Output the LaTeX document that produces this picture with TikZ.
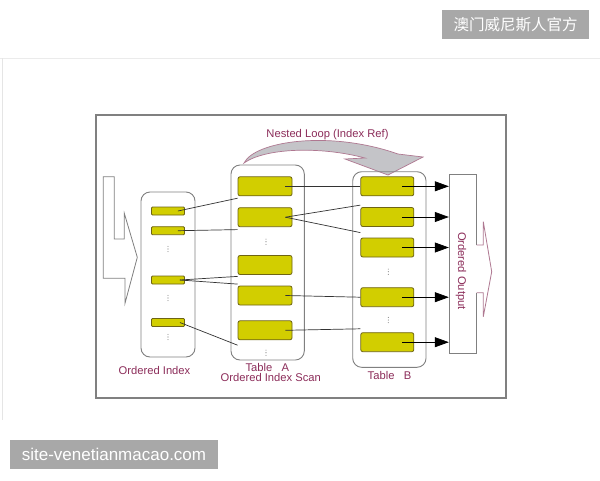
\documentclass[tikz,border=0pt]{standalone}
\usepackage{fontspec}
\setmainfont{Liberation Sans}
\newfontfamily\cjkfont{Noto Sans CJK SC}
\usetikzlibrary{arrows.meta}

\definecolor{rowfill}{RGB}{210,206,0}
\definecolor{rowline}{RGB}{110,100,20}
\definecolor{labelred}{RGB}{140,45,90}
\definecolor{boxgray}{RGB}{128,128,128}
\definecolor{loopgray}{RGB}{196,196,200}
\definecolor{looppink}{RGB}{175,120,145}
\definecolor{markgray}{RGB}{168,168,168}

\tikzset{
  row/.style={draw=rowline, fill=rowfill, rounded corners=2pt, line width=0.8pt,
    minimum width=54pt, minimum height=19pt, inner sep=0pt},
  keyrow/.style={row, minimum width=33pt, minimum height=8pt, rounded corners=1pt},
  holder/.style={draw=boxgray, rounded corners=9pt, line width=0.9pt},
  caption/.style={text=labelred, font=\fontsize{11.2}{10}\selectfont, inner sep=0pt},
  link/.style={draw=black!80, line width=0.7pt},
  feed/.style={draw=black, line width=0.7pt, -{Triangle[length=14pt,width=10pt]}},
  gap/.pic={\foreach \d in {-2.6,0,2.6} \fill[boxgray] (0,\d) circle (0.55);},
  stamp/.style={text=white, inner sep=0pt},
}

\begin{document}
\begin{tikzpicture}[x=1pt, y=-1pt]
	\useasboundingbox (0,0) rectangle (600,480);
	\fill[white] (0,0) rectangle (600,480);
	\draw[black!8] (0,58) -- (600,58);
	\draw[black!10] (2.5,58) -- (2.5,420);
	
	% page marks
	\fill[markgray] (442,10) rectangle (589,39);
	\node[stamp, font=\cjkfont\fontsize{15.5}{16}\selectfont] (markcn) at (515.5,24.5) {澳门威尼斯人官方};
	\fill[markgray] (10,440) rectangle (218,469);
	\node[stamp, font=\fontsize{17}{18}\selectfont] (markurl) at (114,454.5) {site-venetianmacao.com};
	
	\draw[boxgray, line width=1.2pt] (96,115) rectangle (506,398);
	
	% input arrow
	\draw[boxgray, line width=0.8pt] (103.3,176.7) -- (114.3,176.7) -- (114.3,239) -- (124.3,239)
		-- (124.3,213.3) -- (137.3,257.3) -- (125,303.3) -- (125,278.3) -- (103.3,278.3) -- cycle;
	
	% nested loop arrow
	\draw[fill=loopgray, draw=looppink, line width=0.7pt] (244,163) .. controls (255,141) and (330,130) .. (398,154)
		-- (423,157) -- (388,175) -- (345,159) -- (365,158) .. controls (320,146) and (265,148) .. (244,163) -- cycle;
	\node[caption] (looplabel) at (327.5,135) {Nested Loop (Index Ref)};
	
	\draw[holder] (141,192) rectangle (195,357);
	\draw[holder] (231,165) rectangle (304.3,360);
	\draw[holder] (352.7,171.7) rectangle (426,367.3);
	
	\node[keyrow] (idx1) at (168,211) {};
	\node[keyrow] (idx2) at (168,230.7) {};
	\node[keyrow] (idx3) at (168,280) {};
	\node[keyrow] (idx4) at (168,322.5) {};
	\pic at (168,249) {gap};
	\pic at (168,298) {gap};
	\pic at (168,337) {gap};
	
	\node[row] (ta1) at (265,186.3) {};
	\node[row] (ta2) at (265,217.2) {};
	\node[row] (ta3) at (265,265) {};
	\node[row] (ta4) at (265,295.5) {};
	\node[row] (ta5) at (265,330.3) {};
	\pic at (266,241.7) {gap};
	\pic at (266,352.7) {gap};
	
	\node[row, minimum width=53pt] (tb1) at (387.3,186.3) {};
	\node[row, minimum width=53pt] (tb2) at (387.3,217) {};
	\node[row, minimum width=53pt] (tb3) at (387.3,247.5) {};
	\node[row, minimum width=53pt] (tb4) at (387.3,297.2) {};
	\node[row, minimum width=53pt] (tb5) at (387.3,342.2) {};
	\pic at (388.3,271.7) {gap};
	\pic at (388.3,320) {gap};
	
	% output box
	\node[minimum width=27.7pt, minimum height=179.3pt, inner sep=0pt] (out) at (462.85,263.65) {};
	\draw[boxgray, line width=0.8pt] (476.7,245) -- (476.7,174) -- (449,174) -- (449,353.3) -- (476.7,353.3) -- (476.7,292.7);
	\draw[looppink, line width=0.8pt] (476.7,245) -- (483.3,245) -- (483.3,221.7) -- (491.7,271.7)
		-- (483.3,316.7) -- (483.3,292.7) -- (476.7,292.7);
	\node[caption, rotate=-90] (outlabel) at (461,271) {Ordered Output};
	
	\draw[link] ([xshift=-7pt]idx1.east) -- ([yshift=-2pt]ta1.south west);
	\draw[link] ([xshift=-7pt]idx2.east) -- ([yshift=-2.5pt]ta2.south west);
	\draw[link] ([xshift=-5pt]idx3.east) -- ([yshift=-1.5pt]ta3.south west);
	\draw[link] ([xshift=-5pt]idx3.east) -- ([yshift=1.5pt]ta4.north west);
	\draw[link] ([xshift=-5pt]idx4.east) -- ([yshift=-5pt]ta5.south west);
	
	\draw[link] ([xshift=-7pt]ta1.east) -- (tb1.west);
	\draw[link] ([xshift=-7pt]ta2.east) -- ([yshift=2pt]tb2.north west);
	\draw[link] ([xshift=-7pt]ta2.east) -- ([yshift=5pt]tb3.north west);
	\draw[link] ([xshift=-7pt]ta4.east) -- (tb4.west);
	\draw[link] ([xshift=-7pt]ta5.east) -- ([yshift=3.5pt]tb5.north west);
	
	\draw[feed] ([xshift=-12pt]tb1.east) -- (tb1 -| out.west);
	\draw[feed] ([xshift=-12pt]tb2.east) -- (tb2 -| out.west);
	\draw[feed] ([xshift=-12pt]tb3.east) -- (tb3 -| out.west);
	\draw[feed] ([xshift=-12pt]tb4.east) -- (tb4 -| out.west);
	\draw[feed] ([xshift=-12pt]tb5.east) -- (tb5 -| out.west);
	
	\node[caption] (idxlabel) at (154.5,370.7) {Ordered Index};
	\node[caption, align=center] (talabel) at (270.8,372.3) {Table\ \ \ A\hspace*{7pt}\\Ordered Index Scan};
	\node[caption] (tblabel) at (389.5,375) {Table\ \ \ B};
\end{tikzpicture}
\end{document}
